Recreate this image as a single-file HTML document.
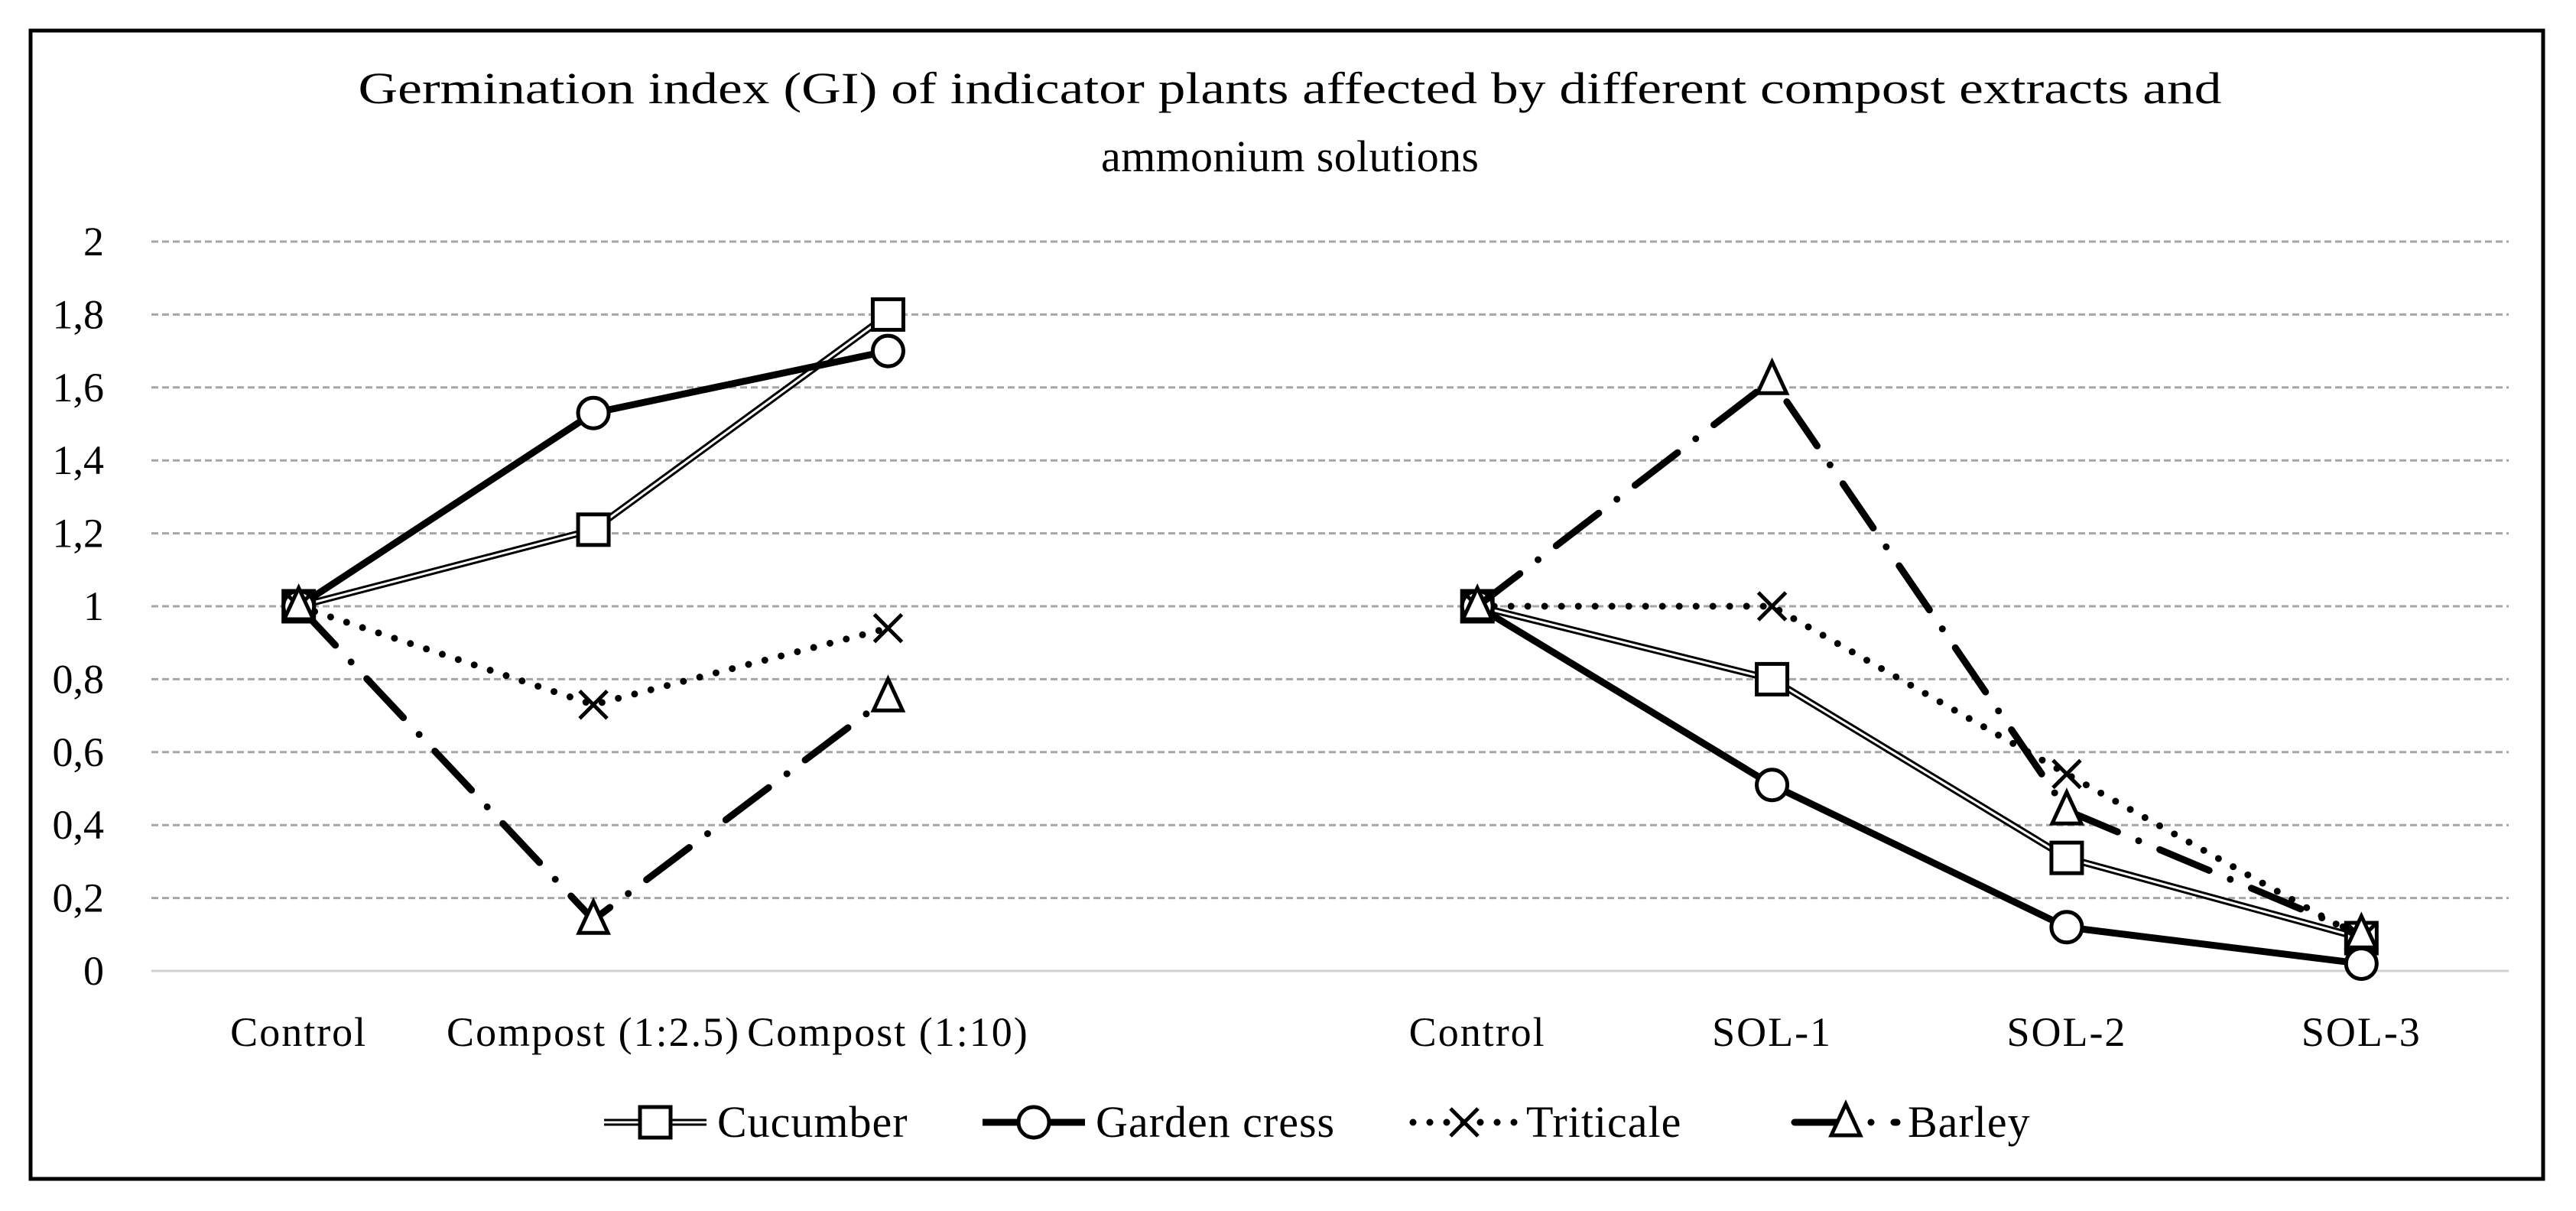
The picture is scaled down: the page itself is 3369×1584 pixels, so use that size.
<!DOCTYPE html>
<html><head><meta charset="utf-8"><style>
body{margin:0;background:#fff;}
svg{display:block;font-family:"Liberation Serif",serif;}
</style></head><body>
<svg id="chart" width="3369" height="1584" viewBox="0 0 3369 1584" xmlns="http://www.w3.org/2000/svg">
<rect x="40" y="40" width="3286" height="1502" fill="#fff" stroke="#000" stroke-width="5"/>
<text x="1687" y="135" font-size="58" text-anchor="middle" textLength="2437" lengthAdjust="spacingAndGlyphs">Germination index (GI) of indicator plants affected by different compost extracts and</text>
<text x="1687" y="224" font-size="58" text-anchor="middle" textLength="494" lengthAdjust="spacing">ammonium solutions</text>
<g id="grid"></g><g id="yticks"></g><g id="xticks"></g><g id="series"></g><g id="legend"></g>
</svg>
<script>
const categories = ["Control","Compost (1:2.5)","Compost (1:10)","","Control","SOL-1","SOL-2","SOL-3"];
const yTicks = [0,0.2,0.4,0.6,0.8,1,1.2,1.4,1.6,1.8,2];
const yTickLabels = ["0","0,2","0,4","0,6","0,8","1","1,2","1,4","1,6","1,8","2"];
const seriesNames = ["Cucumber","Garden cress","Triticale","Barley"];
const cucumber = [1,1.21,1.80,null,1,0.80,0.31,0.09];
const gardenCress = [1,1.53,1.70,null,1,0.51,0.12,0.02];
const triticale = [1,0.73,0.94,null,1,1.0,0.54,0.09];
const barley = [1,0.14,0.75,null,1,1.62,0.44,0.10];

const NS="http://www.w3.org/2000/svg";
const L=198,R=3281,T=316,B=1270,yMax=2;
const step=(R-L)/categories.length;
function x(i){return L+step*(i+0.5);}
function y(v){return B-(v/yMax)*(B-T);}
function mk(tag,attrs,parent){const e=document.createElementNS(NS,tag);for(const k in attrs)e.setAttribute(k,attrs[k]);parent.appendChild(e);return e;}
const grid=document.getElementById('grid'),yt=document.getElementById('yticks'),xt=document.getElementById('xticks'),ser=document.getElementById('series'),leg=document.getElementById('legend');

yTicks.forEach((v,i)=>{
  const ln=mk('line',{x1:L,x2:R,y1:y(v),y2:y(v),stroke:v===0?'#d0d0d0':'#a6a6a6','stroke-width':3,'stroke-dasharray':v===0?'':'9,5'},grid);
  
  
  const t=mk('text',{x:136,y:y(v)+18,'font-size':54,'text-anchor':'end'},yt);
  t.textContent=yTickLabels[i];
  
  
});
categories.forEach((c,i)=>{
  const t=mk('text',{x:x(i),y:1368,'font-size':54,'text-anchor':'middle','letter-spacing':2},xt);
  t.textContent=c;
  
  
});

function marker(type,cx,cy,g){
  let m;
  if(type==='square')m=mk('rect',{x:cx-20,y:cy-20,width:40,height:40,fill:'#fff',stroke:'#000','stroke-width':5},g);
  else if(type==='circle')m=mk('circle',{cx:cx,cy:cy,r:20,fill:'#fff',stroke:'#000','stroke-width':5},g);
  else if(type==='x'){m=mk('path',{d:`M${cx-18} ${cy-18}L${cx+18} ${cy+18}M${cx+18} ${cy-18}L${cx-18} ${cy+18}`,stroke:'#000','stroke-width':5,fill:'none'},g);}
  else m=mk('path',{d:`M${cx} ${cy-24}L${cx+19} ${cy+17}L${cx-19} ${cy+17}Z`,fill:'#fff',stroke:'#000','stroke-width':5},g);
  return m;
}
function lineStyles(type,d,g){
  if(type==='cucumber'){mk('path',{d:d,stroke:'#000','stroke-width':9,fill:'none'},g);mk('path',{d:d,stroke:'#fff','stroke-width':3,fill:'none'},g);}
  else if(type==='cress')mk('path',{d:d,stroke:'#000','stroke-width':9,fill:'none'},g);
  else if(type==='triticale')mk('path',{d:d,stroke:'#000','stroke-width':9,fill:'none','stroke-dasharray':'0,22','stroke-linecap':'round'},g);
  else mk('path',{d:d,stroke:'#000','stroke-width':9,fill:'none','stroke-dasharray':'70,30,0,30','stroke-linecap':'round'},g);
}
const defs=[[cucumber,'cucumber','square'],[gardenCress,'cress','circle'],[triticale,'triticale','x'],[barley,'barley','triangle']];
defs.forEach(([vals,type,mt],si)=>{
  const g=mk('g',{},ser);
  
  
  let segs=[],cur=[];
  vals.forEach((v,i)=>{if(v===null){if(cur.length)segs.push(cur);cur=[];}else cur.push([x(i),y(v)]);});
  if(cur.length)segs.push(cur);
  segs.forEach(s=>lineStyles(type,'M'+s.map(p=>p.join(' ')).join('L'),g));
  vals.forEach((v,i)=>{if(v===null)return;
    const m=marker(mt,x(i),y(v),g);
    
    
  });
});
const legX=[790,1285,1848,2347];
defs.forEach(([vals,type,mt],si)=>{
  const g=mk('g',{},leg);
  
  
  const lx=legX[si],ly=1468;
  lineStyles(type,`M${lx} ${ly}L${lx+134} ${ly}`,g);
  marker(mt,lx+67,ly,g);
  const t=mk('text',{x:lx+148,y:ly+19,'font-size':58,'letter-spacing':1},g);
  t.textContent=seriesNames[si];
  
  
});
</script>
</body></html>
